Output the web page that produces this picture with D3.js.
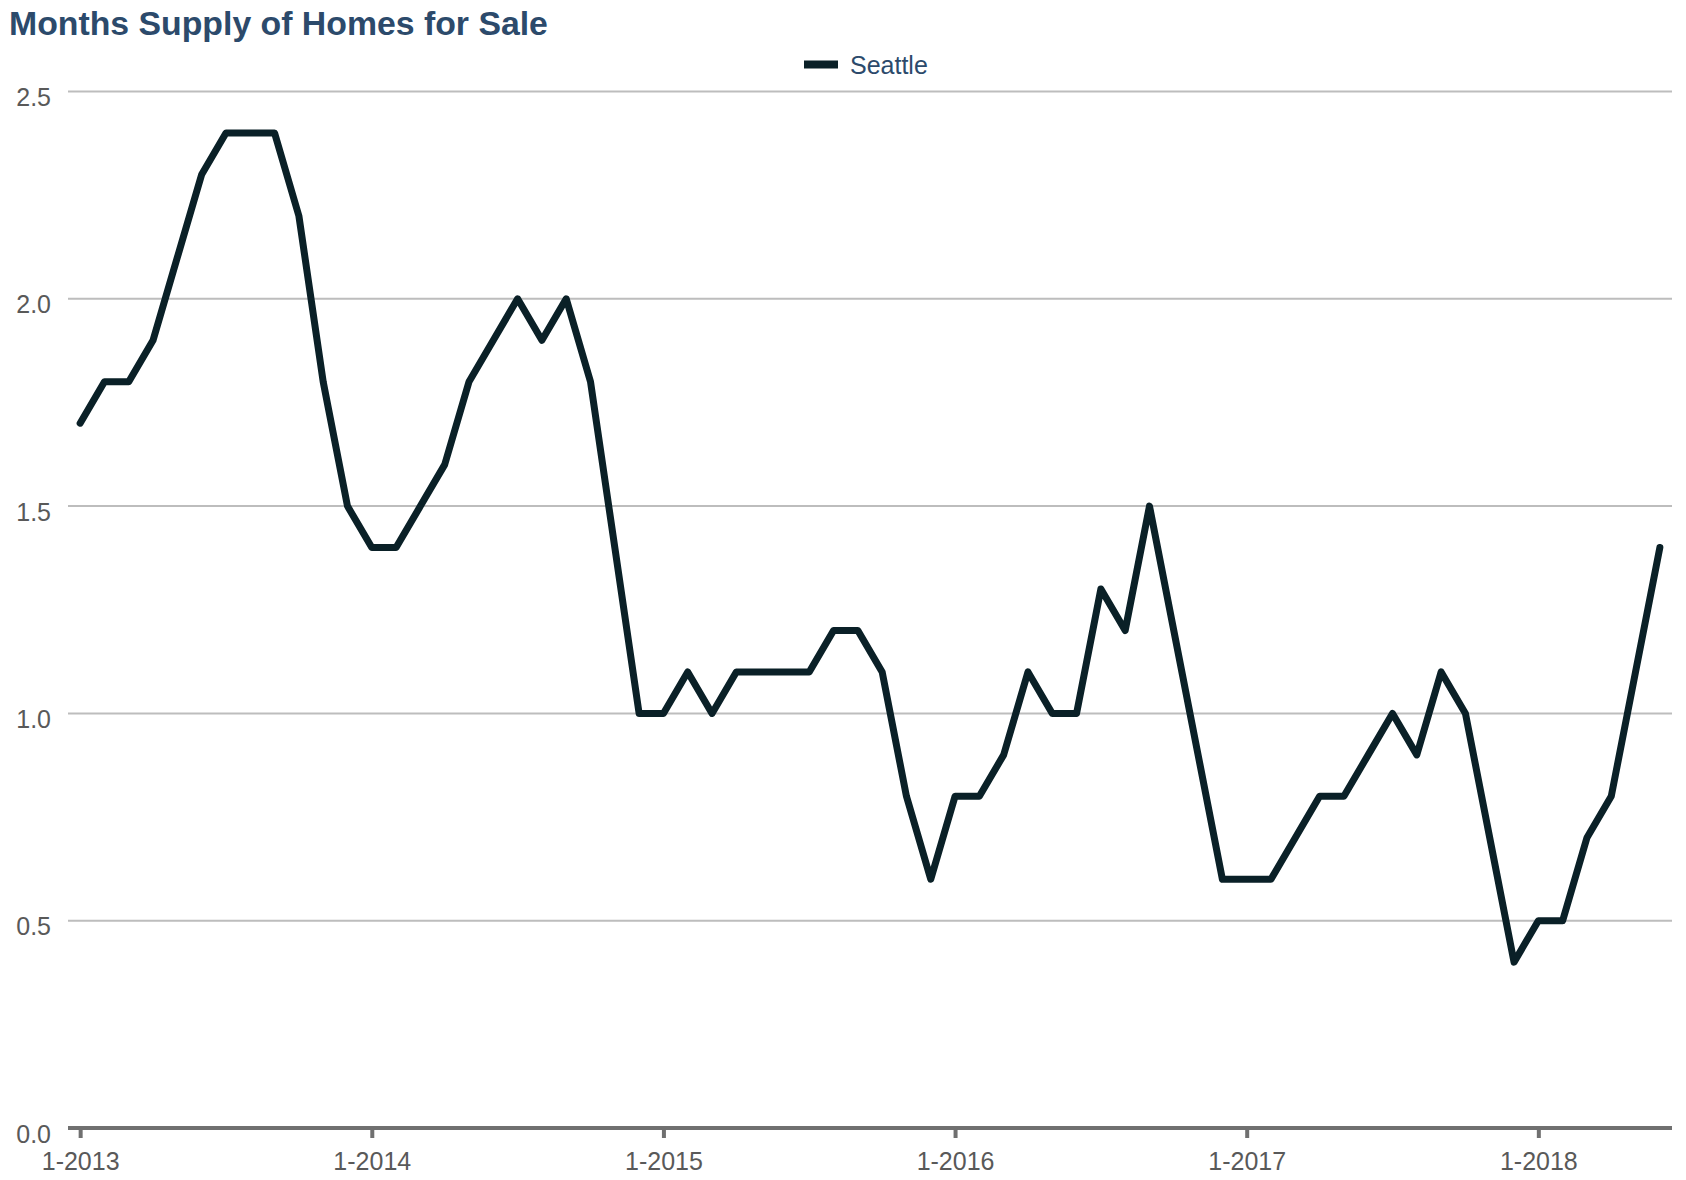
<!DOCTYPE html>
<html>
<head>
<meta charset="utf-8">
<script src="https://cdn.jsdelivr.net/npm/d3@7"></script>
<style>
  html, body { margin: 0; padding: 0; background: #fff; }
  svg { display: block; }
  text { font-family: "Liberation Sans", Arial, sans-serif; }
</style>
</head>
<body>
<svg id="chart" width="1686" height="1180"></svg>
<script>
const title = "Months Supply of Homes for Sale";
const seriesName = "Seattle";

const years = [2013, 2014, 2015, 2016, 2017, 2018];
const months = [];
years.forEach(y => { for (let m = 1; m <= 12; m++) { if (y === 2018 && m > 6) break; months.push(m + "-" + y); } });

const seattle = [
  1.7, 1.8, 1.8, 1.9, 2.1, 2.3, 2.4, 2.4, 2.4, 2.2, 1.8, 1.5,
  1.4, 1.4, 1.5, 1.6, 1.8, 1.9, 2.0, 1.9, 2.0, 1.8, 1.4, 1.0,
  1.0, 1.1, 1.0, 1.1, 1.1, 1.1, 1.1, 1.2, 1.2, 1.1, 0.8, 0.6,
  0.8, 0.8, 0.9, 1.1, 1.0, 1.0, 1.3, 1.2, 1.5, 1.2, 0.9, 0.6,
  0.6, 0.6, 0.7, 0.8, 0.8, 0.9, 1.0, 0.9, 1.1, 1.0, 0.7, 0.4,
  0.5, 0.5, 0.7, 0.8, 1.1, 1.4
];

const xTickLabels = ["1-2013", "1-2014", "1-2015", "1-2016", "1-2017", "1-2018"];
const yTicks = [0.0, 0.5, 1.0, 1.5, 2.0, 2.5];

const svg = d3.select("#chart");
const mLeft = 68, mRight = 1672, mTop = 91.5, mBottom = 1128;

const x = d3.scalePoint().domain(months).range([mLeft, mRight]).padding(0.5);
const y = d3.scaleLinear().domain([0, 2.5]).range([mBottom, mTop]);

// Title
svg.append("text")
  .attr("x", 9).attr("y", 35)
  .attr("font-size", 33.8).attr("font-weight", "bold")
  .attr("fill", "#2c4a6b")
  .text(title);

// Legend
svg.append("line")
  .attr("x1", 804).attr("x2", 838).attr("y1", 64.5).attr("y2", 64.5)
  .attr("stroke", "#0a2027").attr("stroke-width", 8);
svg.append("text")
  .attr("x", 850).attr("y", 73.5)
  .attr("font-size", 25).attr("fill", "#2c4a6b")
  .text(seriesName);

// Gridlines + y labels
const yAxis = d3.axisLeft(y).tickValues(yTicks).tickFormat(d3.format(".1f")).tickSize(0);
const gy = svg.append("g").attr("transform", `translate(${mLeft},0)`).call(yAxis);
gy.select(".domain").remove();
gy.selectAll("text")
  .attr("x", -17).attr("dy", 0).attr("y", 14)
  .attr("font-size", 25).attr("fill", "#595959")
  .attr("font-family", "Liberation Sans, Arial, sans-serif");

svg.append("g").selectAll("line")
  .data(yTicks.filter(d => d > 0))
  .join("line")
  .attr("x1", mLeft).attr("x2", mRight)
  .attr("y1", d => y(d)).attr("y2", d => y(d))
  .attr("stroke", "#bdbdbd").attr("stroke-width", 2);

// X axis
const xAxis = d3.axisBottom(x)
  .tickValues(xTickLabels)
  .tickSize(10)
  .tickSizeOuter(0)
  .tickPadding(14);
const gx = svg.append("g").attr("transform", `translate(0,${mBottom})`).call(xAxis);
gx.select(".domain").attr("stroke", "#707070").attr("stroke-width", 4)
  .attr("d", `M${mLeft},0H${mRight}`);
gx.selectAll(".tick line").attr("stroke", "#707070").attr("stroke-width", 4);
gx.selectAll(".tick text")
  .attr("font-size", 25).attr("fill", "#595959")
  .attr("font-family", "Liberation Sans, Arial, sans-serif")
  .attr("dy", "0.71em");

// Line
const line = d3.line()
  .x((d, i) => x(months[i]))
  .y(d => y(d));
svg.append("path")
  .datum(seattle)
  .attr("d", line)
  .attr("fill", "none")
  .attr("stroke", "#0a2027")
  .attr("stroke-width", 7)
  .attr("stroke-linejoin", "round")
  .attr("stroke-linecap", "round");
</script>
</body>
</html>
